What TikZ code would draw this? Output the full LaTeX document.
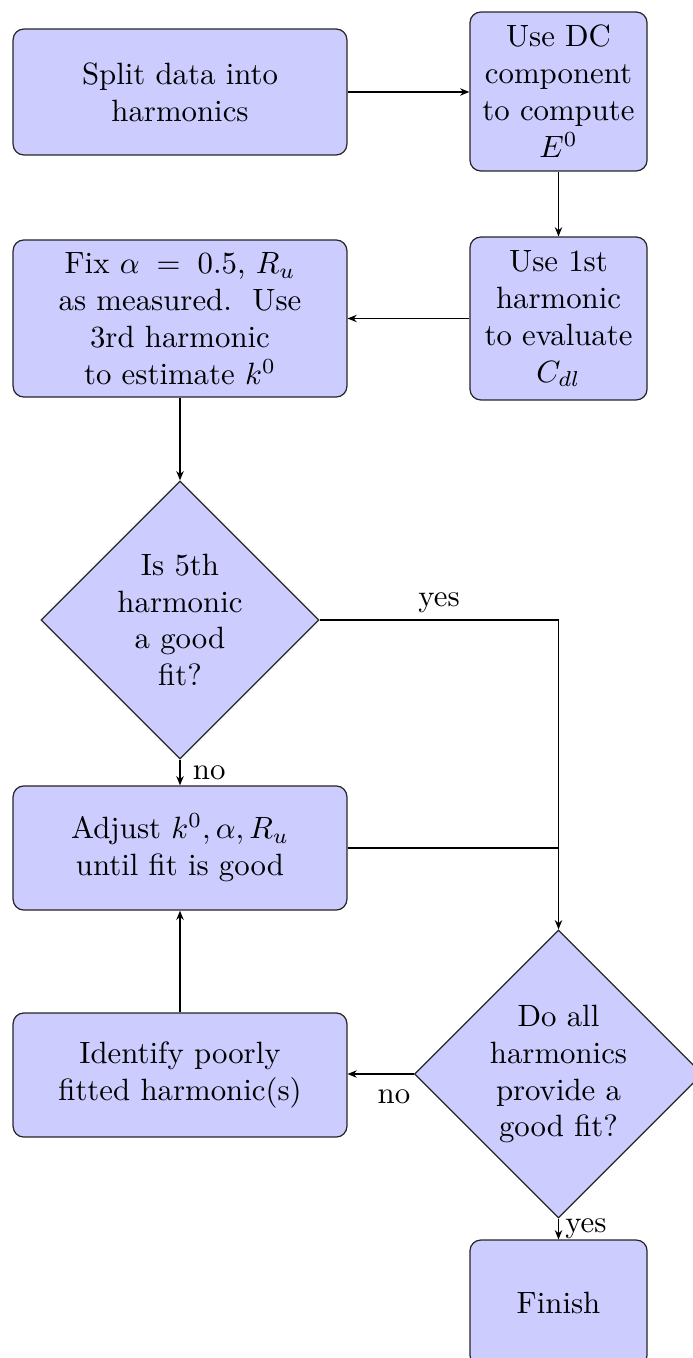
\documentclass[tikz,border=0pt]{standalone}
\usetikzlibrary{shapes.geometric,arrows.meta}
\begin{document}
\begin{tikzpicture}[x=0.3247pt,y=-0.3247pt,
  box/.style={draw=black!85,fill=blue!20,rounded corners=3.5pt,align=center,inner sep=1pt},
  wide/.style={box,minimum width=108.4pt},
  narrow/.style={box,minimum width=57.5pt},
  decision/.style={diamond,draw=black!85,fill=blue!20,align=center,inner sep=1pt,aspect=1},
  arr/.style={-{Stealth[length=3pt,width=2.4pt]}},
  lab/.style={inner sep=0pt}]
\useasboundingbox (0,0) rectangle (692,1358);
\node[wide,minimum height=40.9pt] (b1) at (180,92) {Split data into\\harmonics};
\node[narrow,minimum height=51.6pt] (b2) at (558.5,91.5) {Use DC\\component\\to compute\\$E^0$};
\node[narrow,minimum height=52.9pt] (b3) at (558.5,318.5) {Use 1st\\harmonic\\to evaluate\\$C_{dl}$};
\node[wide,minimum height=51pt] (b4) at (180,318.5) {Fix $\alpha\;=\;0.5$, $R_u$\\as measured.\ \ Use\\3rd harmonic\\to estimate $k^0$};
\node[decision,minimum size=90.3pt] (d1) at (180,620) {Is 5th\\harmonic\\a good\\fit?};
\node[wide,minimum height=40.3pt] (b5) at (180,848) {Adjust $k^0,\alpha,R_u$\\until fit is good};
\node[wide,minimum height=40.3pt] (b6) at (180,1075) {Identify poorly\\fitted harmonic(s)};
\node[decision,minimum size=92.2pt] (d2) at (558.5,1074) {Do all\\harmonics\\provide a\\good fit?};
\node[narrow,minimum height=40.9pt] (fin) at (558.5,1303) {Finish};

\draw[arr] (b1.east) -- (b2.west |- b1.east);
\draw[arr] (b2.south) -- (b3.north);
\draw[arr] (b3.west) -- (b4.east |- b3.west);
\draw[arr] (b4.south) -- (d1.north);
\draw[arr] (d1.east) -| (d2.north) node[lab,pos=0.25,above=2pt] {yes};
\draw[arr] (d1.south) -- (b5.north) node[lab,midway,right=4pt] {no};
\draw (b5.east) -- (b5.east -| d2.north);
\draw[arr] (b6.north) -- (b5.south);
\draw[arr] (d2.west) -- (b6.east |- d2.west) node[lab,pos=0.3,below=5pt] {no};
\draw[arr] (d2.south) -- (fin.north) node[lab,midway,right=2pt] {yes};
\end{tikzpicture}
\end{document}
